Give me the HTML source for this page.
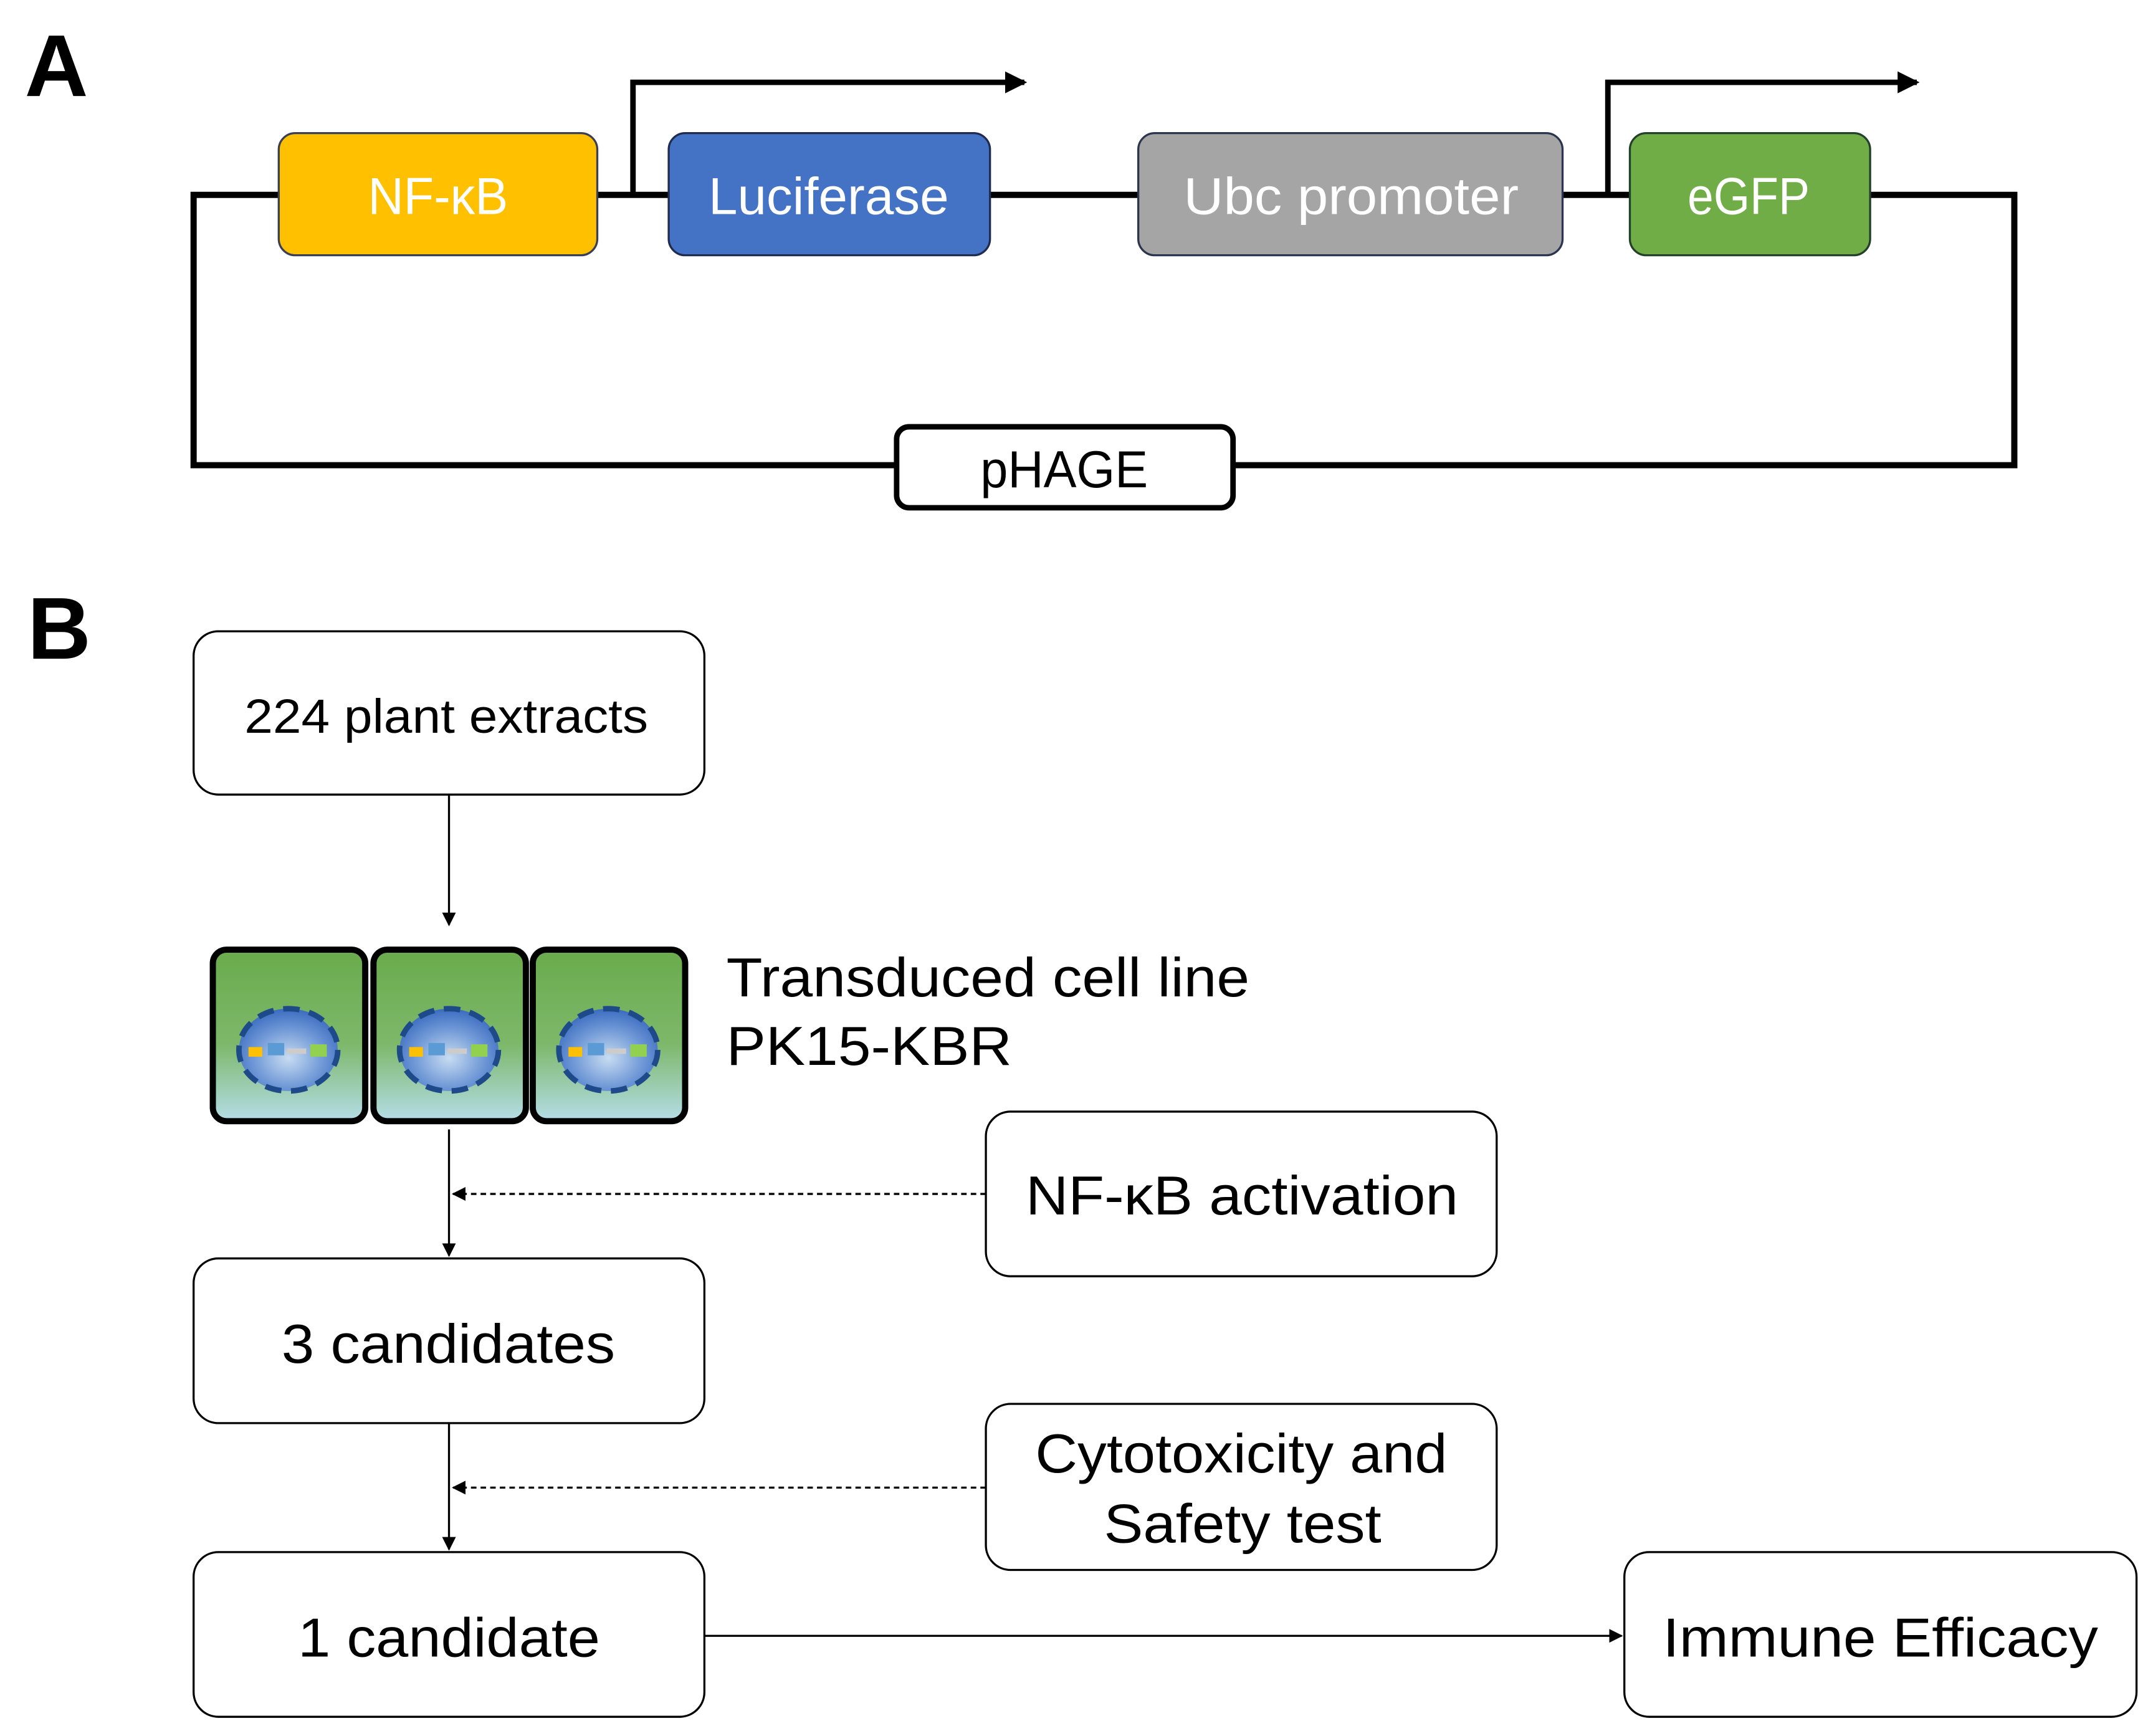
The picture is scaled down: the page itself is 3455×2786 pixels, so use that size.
<!DOCTYPE html>
<html><head><meta charset="utf-8"><style>
html,body{margin:0;padding:0;background:#fff;}
svg{display:block;}
text{font-family:"Liberation Sans",sans-serif;}
</style></head><body>
<svg width="3455" height="2786" viewBox="0 0 1568 1265" preserveAspectRatio="none" xmlns="http://www.w3.org/2000/svg">
<defs>
<marker id="ah" markerWidth="10" markerHeight="10" refX="9" refY="5" orient="auto" markerUnits="userSpaceOnUse"><path d="M0,0 L10,5 L0,10 z" fill="#000"/></marker>
<marker id="ahb" markerWidth="16" markerHeight="16" refX="14" refY="8" orient="auto" markerUnits="userSpaceOnUse"><path d="M0,0 L16,8 L0,16 z" fill="#000"/></marker>
<linearGradient id="cg" x1="0" y1="0" x2="0" y2="1"><stop offset="0" stop-color="#6aab4c"/><stop offset="0.55" stop-color="#7db86a"/><stop offset="1" stop-color="#b5dde8"/></linearGradient>
<radialGradient id="ng" cx="0.5" cy="0.6" r="0.6"><stop offset="0" stop-color="#c8dcf2"/><stop offset="0.6" stop-color="#6e97d6"/><stop offset="1" stop-color="#3c6cc0"/></radialGradient>
</defs>
<rect width="1568" height="1265" fill="#fff"/>
<text x="18" y="70" font-size="64" font-weight="bold">A</text>
<text x="20" y="480" font-size="64" font-weight="bold">B</text>

<!-- Part A -->
<polyline points="203,142 141,142 141,339 653,339" fill="none" stroke="#000" stroke-width="4.5"/>
<polyline points="898,339 1467,339 1467,142 1362,142" fill="none" stroke="#000" stroke-width="4.5"/>
<line x1="435" y1="142" x2="487" y2="142" stroke="#000" stroke-width="4.5"/>
<line x1="721" y1="142" x2="829" y2="142" stroke="#000" stroke-width="4.5"/>
<line x1="1138" y1="142" x2="1187" y2="142" stroke="#000" stroke-width="4.5"/>
<polyline points="461,144 461,60 746,60" fill="none" stroke="#000" stroke-width="4" marker-end="url(#ahb)"/>
<polyline points="1171,144 1171,60 1396,60" fill="none" stroke="#000" stroke-width="4" marker-end="url(#ahb)"/>
<rect x="203" y="97" width="232" height="89" rx="12" fill="#FFC000" stroke="#3a3f55" stroke-width="1.5"/>
<rect x="487" y="97" width="234" height="89" rx="12" fill="#4472C4" stroke="#1f2c4f" stroke-width="1.5"/>
<rect x="829" y="97" width="309" height="89" rx="12" fill="#A5A5A5" stroke="#2b3550" stroke-width="1.5"/>
<rect x="1187" y="97" width="175" height="89" rx="12" fill="#70AD47" stroke="#23402a" stroke-width="1.5"/>
<g fill="#fff" font-size="38" lengthAdjust="spacingAndGlyphs">
<text x="268" y="156" textLength="102" lengthAdjust="spacingAndGlyphs">NF-κB</text>
<text x="516" y="156" textLength="175" lengthAdjust="spacingAndGlyphs">Luciferase</text>
<text x="862" y="156" textLength="244" lengthAdjust="spacingAndGlyphs">Ubc promoter</text>
<text x="1229" y="156" textLength="89" lengthAdjust="spacingAndGlyphs">eGFP</text>
</g>
<rect x="653" y="311" width="245" height="59" rx="9" fill="#fff" stroke="#000" stroke-width="4"/>
<text x="714" y="355" font-size="38" textLength="122" lengthAdjust="spacingAndGlyphs">pHAGE</text>

<!-- Part B boxes -->
<g fill="#fff" stroke="#000" stroke-width="1.5">
<rect x="141" y="460" width="372" height="119" rx="18"/>
<rect x="141" y="917" width="372" height="120" rx="18"/>
<rect x="141" y="1131" width="372" height="120" rx="18"/>
<rect x="718" y="810" width="372" height="120" rx="18"/>
<rect x="718" y="1023" width="372" height="121" rx="18"/>
<rect x="1183" y="1131" width="373" height="120" rx="18"/>
</g>
<g font-size="40" fill="#000">
<text x="178" y="534" font-size="35" textLength="294" lengthAdjust="spacingAndGlyphs">224 plant extracts</text>
<text x="205" y="993" textLength="243" lengthAdjust="spacingAndGlyphs">3 candidates</text>
<text x="217" y="1207" textLength="220" lengthAdjust="spacingAndGlyphs">1 candidate</text>
<text x="747" y="885" textLength="315" lengthAdjust="spacingAndGlyphs">NF-κB activation</text>
<text x="754" y="1073" textLength="300" lengthAdjust="spacingAndGlyphs">Cytotoxicity and</text>
<text x="804" y="1124" textLength="202" lengthAdjust="spacingAndGlyphs">Safety test</text>
<text x="1211" y="1207" textLength="317" lengthAdjust="spacingAndGlyphs">Immune Efficacy</text>
</g>
<text x="529" y="726" font-size="40" textLength="381" lengthAdjust="spacingAndGlyphs">Transduced cell line</text>
<text x="529" y="776" font-size="40" textLength="208" lengthAdjust="spacingAndGlyphs">PK15-KBR</text>

<!-- connectors -->
<g stroke="#000" stroke-width="1.5" fill="none">
<line x1="327" y1="579" x2="327" y2="674" marker-end="url(#ah)"/>
<line x1="327" y1="823" x2="327" y2="915" marker-end="url(#ah)"/>
<line x1="327" y1="1037" x2="327" y2="1129" marker-end="url(#ah)"/>
<line x1="513" y1="1192" x2="1181" y2="1192" marker-end="url(#ah)"/>
<line x1="718" y1="870" x2="330" y2="870" stroke-dasharray="4,3" marker-end="url(#ah)"/>
<line x1="718" y1="1084" x2="330" y2="1084" stroke-dasharray="4,3" marker-end="url(#ah)"/>
</g>

<!-- cells -->
<g>
<g id="cell">
<rect x="155" y="692" width="111" height="125" rx="10" fill="url(#cg)" stroke="#000" stroke-width="4.5"/>
<ellipse cx="210" cy="765" rx="36" ry="30" fill="url(#ng)" stroke="#1e4a8a" stroke-width="4" stroke-dasharray="12,7"/>
<rect x="181" y="763" width="10" height="7" fill="#FFC000"/>
<rect x="195" y="760" width="12" height="9" fill="#5b9bd5"/>
<rect x="209" y="764" width="14" height="4" fill="#ccc"/>
<rect x="226" y="761" width="12" height="9" fill="#92d050"/>
</g>
<use href="#cell" x="117"/>
<use href="#cell" x="233"/>
</g>
</svg>
</body></html>
